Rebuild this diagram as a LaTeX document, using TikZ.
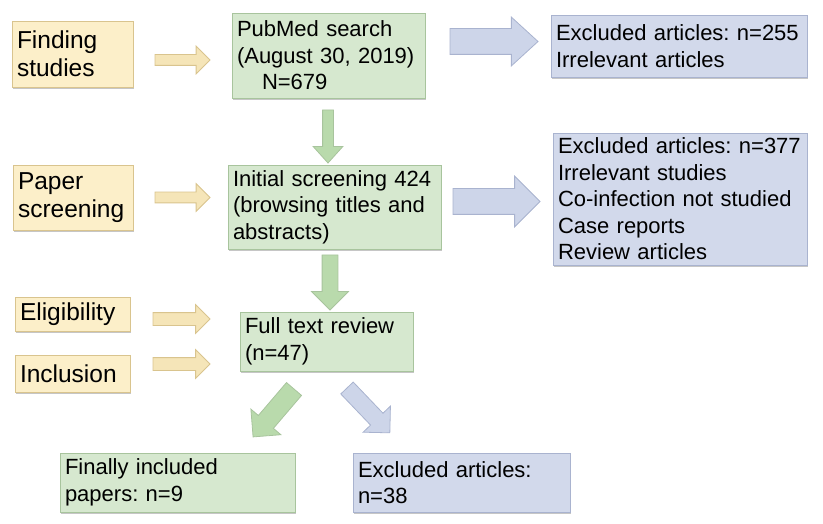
\documentclass[tikz,border=0pt]{standalone}
\usepackage{fontspec}
\setmainfont{Liberation Sans}
\usetikzlibrary{shapes.arrows, shadows}
\definecolor{stagefill}{HTML}{FCEFC9}
\definecolor{stageline}{HTML}{D9C48E}
\definecolor{flowfill}{HTML}{D6E8CF}
\definecolor{flowline}{HTML}{A8C49D}
\definecolor{exclfill}{HTML}{D2D9EB}
\definecolor{exclline}{HTML}{A9B3CF}
\definecolor{stagearrow}{HTML}{F5E5B8}
\definecolor{flowarrow}{HTML}{B9DAAC}
\definecolor{exclarrow}{HTML}{CDD5E9}
\begin{document}
\frenchspacing
\begin{tikzpicture}[x=1pt,y=-1pt,
  base box/.style={rectangle,draw,line width=0.8pt,inner xsep=5pt,inner ysep=2pt,align=left,
    drop shadow={shadow xshift=0.6pt,shadow yshift=-1.8pt,opacity=.45}},
  stage node/.style={base box,fill=stagefill,draw=stageline,font=\fontsize{24.5}{28}\selectfont},
  flow node/.style={base box,fill=flowfill,draw=flowline,font=\fontsize{22}{26.5}\selectfont},
  excl node/.style={base box,fill=exclfill,draw=exclline,font=\fontsize{22}{26.5}\selectfont},
  fat arrow/.style={single arrow,line width=0.8pt,anchor=tail,inner xsep=0pt,outer sep=0pt,
    minimum width=0pt,single arrow tip angle=90},
  stage arrow/.style={fat arrow,fill=stagearrow,draw=stageline,minimum height=55pt,inner ysep=5pt,single arrow head extend=8.5pt},
  flow arrow/.style={fat arrow,fill=flowarrow,draw=flowline},
  excl arrow/.style={fat arrow,fill=exclarrow,draw=exclline}]
  \useasboundingbox (0,0) rectangle (823,524);
  \node[stage node,text width=111pt,minimum height=66pt] (find) at (72.5,54) {Finding\\studies};
  \node[stage node,text width=110pt,minimum height=65pt] (paper) at (73,197.5) {Paper\\screening};
  \node[stage node,text width=105pt,minimum height=34pt] (elig) at (72.5,314) {Eligibility};
  \node[stage node,text width=105pt,minimum height=37pt] (incl) at (72.5,373.5) {Inclusion};
  \node[flow node,text width=183pt,minimum height=85pt] (pubmed) at (328.5,55.5) {PubMed search\\(August 30, 2019)\\\hspace*{25pt}N=679};
  \node[flow node,text width=203pt,minimum height=84pt] (screen) at (334.5,207) {Initial screening 424\\(browsing titles and\\abstracts)};
  \node[flow node,text width=163pt,minimum height=59pt] (full) at (326.5,341.5) {Full text review\\(n=47)};
  \node[flow node,text width=225pt,minimum height=59pt] (final) at (177.5,482.5) {Finally included\\papers: n=9};
  \node[excl node,text width=207pt,minimum height=59pt] (ex38) at (461.5,482.5) {Excluded articles:\\n=38};
  \node[excl node,text width=246pt,minimum height=62pt] (ex255) at (679,46) {Excluded articles: n=255\\Irrelevant articles};
  \node[excl node,text width=244pt,minimum height=132pt] (ex377) at (680,199) {Excluded articles: n=377\\Irrelevant studies\\Co-infection not studied\\Case reports\\Review articles};
  \node[stage arrow] (find-arr) at (155,60) {};
  \node[stage arrow] (paper-arr) at (155,197.5) {};
  \node[stage arrow,minimum height=57pt,inner ysep=6pt,single arrow head extend=8pt] (elig-arr) at (153,319) {};
  \node[stage arrow,minimum height=57pt,inner ysep=6pt,single arrow head extend=8pt] (incl-arr) at (153,364) {};
  \node[excl arrow,minimum height=88pt,inner ysep=12.5pt,single arrow head extend=11.5pt,single arrow tip angle=85] (ex255-arr) at (450,41.5) {};
  \node[excl arrow,minimum height=87pt,inner ysep=12.5pt,single arrow head extend=12.5pt] (ex377-arr) at (453,201.5) {};
  \node[flow arrow,rotate=-90,minimum height=53pt,inner ysep=5pt,single arrow head extend=9.5pt,single arrow tip angle=84] (pubmed-arr) at (328,110) {};
  \node[flow arrow,rotate=-90,minimum height=55pt,inner ysep=7.5pt,single arrow head extend=10.5pt] (screen-arr) at (330,255) {};
  \node[flow arrow,rotate=229.5,minimum height=63pt,inner ysep=9.5pt,single arrow head extend=9.8pt] (final-arr) at (294,389) {};
  \node[excl arrow,rotate=-46.3,minimum height=62pt,inner ysep=8.2pt,single arrow head extend=10.3pt] (ex38-arr) at (347,388) {};
\end{tikzpicture}
\end{document}
